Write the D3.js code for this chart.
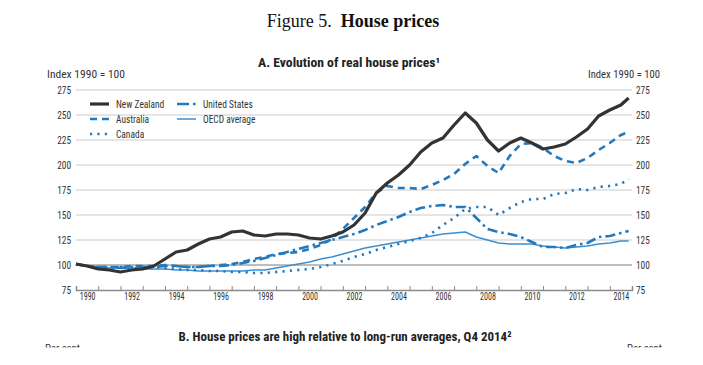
<!DOCTYPE html>
<html>
<head>
<meta charset="utf-8">
<script src="https://cdn.jsdelivr.net/npm/d3@7"></script>
<style>
  html, body { margin: 0; padding: 0; background: #fff; }
  svg { display: block; }
  .narrow { font-family: "Liberation Sans Narrow", "Arial Narrow", "Roboto Condensed", "Liberation Sans", sans-serif; }
</style>
</head>
<body>
<svg id="chart" width="703" height="365"></svg>
<script>
// ---------------- DATA ----------------
const periods = [1990.0,1990.5,1991.0,1991.5,1992.0,1992.5,1993.0,1993.5,1994.0,1994.5,
  1995.0,1995.5,1996.0,1996.5,1997.0,1997.5,1998.0,1998.5,1999.0,1999.5,
  2000.0,2000.5,2001.0,2001.5,2002.0,2002.5,2003.0,2003.5,2004.0,2004.5,
  2005.0,2005.5,2006.0,2006.5,2007.0,2007.5,2008.0,2008.5,2009.0,2009.5,
  2010.0,2010.5,2011.0,2011.5,2012.0,2012.5,2013.0,2013.5,2014.0,2014.5,2014.85];

const newZealand = [101,99,96,95,93,95,96,99,106,113,
  115,121,126,128,133,134,130,129,131,131,
  130,127,126,129,133,140,152,172,182,190,
  200,213,222,227,240,252,242,225,214,222,
  227,222,216,218,221,228,236,249,255,260,267];

const australia = [101,99,98,98,98,99,99,99,100,99,
  98,98,99,100,101,103,106,108,111,112,
  113,116,120,126,136,147,158,172,179,177,
  177,176,180,185,191,201,209,199,192,209,
  221,222,217,209,204,202,207,215,222,230,233];

const canada = [101,99,98,97,98,97,97,98,97,96,
  95,95,94,94,93,93,92,92,93,94,
  95,96,98,101,104,108,111,115,118,121,
  124,127,132,140,147,156,158,158,150,157,
  163,166,166,171,172,176,175,178,179,181,186];

const unitedStates = [101,99,98,98,97,98,98,98,99,99,
  98,98,99,99,100,102,104,107,110,113,
  116,119,122,125,128,131,135,140,144,148,
  153,157,159,160,158,158,147,136,133,131,
  128,123,118,118,117,120,122,128,129,132,134];

const oecdAverage = [100,99,98,97,97,97,96,96,96,95,
  95,94,94,94,94,94,95,95,97,99,
  101,103,106,108,111,114,117,119,121,123,
  125,127,129,131,132,133,128,125,122,121,
  121,121,119,118,117,118,119,121,122,124,124];

const yTicks = [75,100,125,150,175,200,225,250,275];
const yearTickLabels = [1990,1992,1994,1996,1998,2000,2002,2004,2006,2008,2010,2012,2014];
const seriesNames = ["New Zealand","Australia","Canada","United States","OECD average"];

// ---------------- LAYOUT ----------------
const svg = d3.select("#chart");
const plotLeft = 76, plotRight = 632, plotTop = 90, plotBottom = 290;

const x = d3.scaleLinear().domain([1990, 2015]).range([plotLeft, plotRight]);
const y = d3.scaleLinear().domain([75, 275]).range([plotBottom, plotTop]);

const blue = "#2479bd";
const styles = {
  "New Zealand":   { color: "#333333", width: 3.2, dash: null },
  "Australia":     { color: blue, width: 2.6, dash: "7,5" },
  "Canada":        { color: blue, width: 2.6, dash: "2.2,5.2" },
  "United States": { color: blue, width: 2.6, dash: "10,4,2.5,4" },
  "OECD average":  { color: "#3a8fd3", width: 1.5, dash: null }
};
const seriesData = {
  "New Zealand": newZealand,
  "Australia": australia,
  "Canada": canada,
  "United States": unitedStates,
  "OECD average": oecdAverage
};

// condense text horizontally
function condense(sel, factor) {
  sel.each(function() {
    const w = this.getComputedTextLength();
    d3.select(this).attr("textLength", w * factor).attr("lengthAdjust", "spacingAndGlyphs");
  });
}

// Titles
const title = svg.append("text").attr("x", 353).attr("y", 27).attr("text-anchor", "middle")
  .style("font-size", "18px").style("fill", "#111")
  .style("font-family", "'Liberation Serif', 'DejaVu Serif', serif");
title.append("tspan").text("Figure 5.\u00a0\u00a0");
title.append("tspan").style("font-weight", "bold").text("House prices");

svg.append("text").attr("class", "narrow").attr("x", 349).attr("y", 67).attr("text-anchor", "middle")
  .style("font-size", "13.5px").style("font-weight", "bold").style("fill", "#222")
  .attr("textLength", 182).attr("lengthAdjust", "spacingAndGlyphs")
  .text("A. Evolution of real house prices\u00b9");

svg.append("text").attr("class", "narrow").attr("x", 47).attr("y", 78)
  .style("font-size", "11px").style("fill", "#333")
  .attr("textLength", 78).attr("lengthAdjust", "spacingAndGlyphs")
  .text("Index 1990 = 100");
svg.append("text").attr("class", "narrow").attr("x", 660).attr("y", 78).attr("text-anchor", "end")
  .style("font-size", "11px").style("fill", "#333")
  .attr("textLength", 72).attr("lengthAdjust", "spacingAndGlyphs")
  .text("Index 1990 = 100");

// Gridlines
svg.append("g").selectAll("line").data(yTicks.filter(d => d > 100)).join("line")
  .attr("x1", plotLeft).attr("x2", plotRight)
  .attr("y1", d => y(d)).attr("y2", d => y(d))
  .attr("stroke", "#dcdcdc").attr("stroke-width", 1.5);
svg.append("line").attr("x1", plotLeft).attr("x2", plotRight).attr("y1", y(100)).attr("y2", y(100))
  .attr("stroke", "#7a7a7a").attr("stroke-width", 1);

// Left axis
const yAxisL = svg.append("g").attr("class", "narrow").attr("transform", `translate(${plotLeft - 5},0)`)
  .call(d3.axisLeft(y).tickValues(yTicks).tickSize(0).tickPadding(0));
yAxisL.select(".domain").remove();
yAxisL.attr("font-family", null);
yAxisL.selectAll("text").style("font-size", "11px").style("fill", "#333");
condense(yAxisL.selectAll("text"), 0.85);

// Right axis
const yAxisR = svg.append("g").attr("class", "narrow").attr("transform", `translate(${plotRight + 4},0)`)
  .call(d3.axisRight(y).tickValues(yTicks).tickSize(0).tickPadding(0));
yAxisR.select(".domain").remove();
yAxisR.attr("font-family", null);
yAxisR.selectAll("text").style("font-size", "11px").style("fill", "#333");
condense(yAxisR.selectAll("text"), 0.85);

// Bottom axis: year boundary ticks pointing up
const xTickAxis = svg.append("g").attr("transform", `translate(0,${plotBottom})`)
  .call(d3.axisBottom(x).tickValues(d3.range(1990, 2016)).tickSize(-4).tickFormat(""));
xTickAxis.select(".domain").attr("stroke", "#8a8a8a").attr("stroke-width", 1.5);
xTickAxis.selectAll(".tick line").attr("stroke", "#8a8a8a");

// Year labels centered within each year
const xLabelAxis = svg.append("g").attr("class", "narrow").attr("transform", `translate(0,${plotBottom})`)
  .call(d3.axisBottom(x).tickValues(yearTickLabels.map(d => d + 0.5)).tickSize(0).tickPadding(3)
    .tickFormat(d => String(Math.floor(d))));
xLabelAxis.select(".domain").remove();
xLabelAxis.attr("font-family", null);
xLabelAxis.selectAll("text").style("font-size", "10px").style("fill", "#333");
condense(xLabelAxis.selectAll("text"), 0.8);

// Lines
const line = d3.line().x((d, i) => x(periods[i])).y(d => y(d));
const drawOrder = ["OECD average", "Canada", "United States", "Australia", "New Zealand"];
svg.append("g").selectAll("path").data(drawOrder).join("path")
  .attr("d", name => line(seriesData[name]))
  .attr("fill", "none")
  .attr("stroke", name => styles[name].color)
  .attr("stroke-width", name => styles[name].width)
  .attr("stroke-dasharray", name => styles[name].dash)
  .attr("stroke-linejoin", "round");

// Legend
const legendPos = [
  { name: "New Zealand", x: 90, y: 104 },
  { name: "Australia", x: 90, y: 119 },
  { name: "Canada", x: 90, y: 134 },
  { name: "United States", x: 177, y: 104 },
  { name: "OECD average", x: 177, y: 119 }
];
const lg = svg.append("g").selectAll("g").data(legendPos).join("g")
  .attr("transform", d => `translate(${d.x},${d.y})`);
lg.append("line").attr("x1", 0).attr("x2", 19).attr("y1", 0).attr("y2", 0)
  .attr("stroke", d => styles[d.name].color)
  .attr("stroke-width", d => styles[d.name].width)
  .attr("stroke-dasharray", d => d.name === "United States" ? "12,4,2.5,4" : styles[d.name].dash);
const lgText = lg.append("text").attr("class", "narrow").attr("x", 26).attr("y", 4)
  .style("font-size", "11.5px").style("fill", "#333")
  .text(d => d.name);
condense(lgText, 0.82);

// Panel B header (partially visible)
svg.append("text").attr("class", "narrow").attr("x", 345).attr("y", 341).attr("text-anchor", "middle")
  .style("font-size", "13.5px").style("font-weight", "bold").style("fill", "#222")
  .attr("textLength", 333).attr("lengthAdjust", "spacingAndGlyphs")
  .text("B. House prices are high relative to long-run averages, Q4 2014\u00b2");
svg.append("text").attr("class", "narrow").attr("x", 45).attr("y", 352)
  .style("font-size", "11px").style("fill", "#333")
  .attr("textLength", 35).attr("lengthAdjust", "spacingAndGlyphs").text("Per cent");
svg.append("text").attr("class", "narrow").attr("x", 662).attr("y", 352).attr("text-anchor", "end")
  .style("font-size", "11px").style("fill", "#333")
  .attr("textLength", 35).attr("lengthAdjust", "spacingAndGlyphs").text("Per cent");
svg.append("rect").attr("x", 0).attr("y", 347.5).attr("width", 703).attr("height", 18).attr("fill", "#fff");
</script>
</body>
</html>
